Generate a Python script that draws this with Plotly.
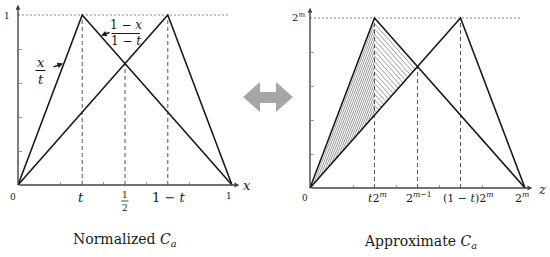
import plotly.graph_objects as go

# ---------------- data ----------------
t = 0.3
curve_a_x = [0, t, 1]          # rises to the peak at t, falls to 1
curve_b_x = [0, 1 - t, 1]      # rises to the peak at 1-t, falls to 1
curve_y = [0, 1, 0]
cross_x = 0.5
cross_y = (1 - cross_x) / (1 - t)
guide_x = [t, cross_x, 1 - t]
guide_top = [1, cross_y, 1]
minor_x_ticks = [0.2, 0.4, 0.6, 0.8]
minor_y_ticks = [0.2, 0.4, 0.6, 0.8]
left_tick_text = ["0", "<i>t</i>", "", "1 − <i>t</i>", "1"]
right_tick_text = ["0", "<i>t</i>2<sup><i>m</i></sup>", "2<sup><i>m</i>−1</sup>",
                   "(1 − <i>t</i>)2<sup><i>m</i></sup>", "2<sup><i>m</i></sup>"]
tick_vals = [0, t, cross_x, 1 - t, 1]
hatch_step = 0.032

W, H = 550, 257
FONT = "DejaVu Serif"
INK = "#1a1a1a"


def px(x):
    return x / W


def py(y):
    return 1 - y / H


def label(x, y, text, size, **kw):
    d = dict(x=px(x), y=py(y), xref="paper", yref="paper", text=text, showarrow=False,
             xanchor="center", yanchor="middle", font=dict(family=FONT, size=size, color=INK))
    d.update(kw)
    return d


# panel geometry in pixels: origin and unit lengths
panels = {
    "L": dict(ox=18, oy=185, ux=214, uy=170, xr=[-0.08, 1.1], yr=[-0.15, 1.07], xa="x", ya="y"),
    "R": dict(ox=310, oy=188, ux=215, uy=170, xr=[-0.08, 1.09], yr=[-0.15, 1.07], xa="x2", ya="y2"),
}

fig = go.Figure()
layout_axes = {}
for key, p in panels.items():
    x0 = p["ox"] + p["xr"][0] * p["ux"]
    x1 = p["ox"] + p["xr"][1] * p["ux"]
    y0 = p["oy"] - p["yr"][0] * p["uy"]
    y1 = p["oy"] - p["yr"][1] * p["uy"]
    xname = "xaxis" if p["xa"] == "x" else "xaxis2"
    yname = "yaxis" if p["ya"] == "y" else "yaxis2"
    layout_axes[xname] = dict(domain=[px(x0), px(x1)], range=p["xr"], anchor="free",
                              position=py(p["oy"]), showgrid=False, zeroline=False,
                              showline=False, ticks="inside", tickvals=minor_x_ticks,
                              ticklen=3, tickwidth=1, tickcolor="#999",
                              showticklabels=False, fixedrange=True)
    layout_axes[yname] = dict(domain=[py(y0), py(y1)], range=p["yr"], anchor="free",
                              position=px(p["ox"]), showgrid=False, zeroline=False,
                              showline=False, ticks="inside", tickvals=minor_y_ticks,
                              ticklen=3, tickwidth=1, tickcolor="#999",
                              showticklabels=False, fixedrange=True)

annotations = []
shapes = []

for key, p in panels.items():
    xa, ya = p["xa"], p["ya"]
    # hatched region (right panel only): nested chevrons between the two curves
    if key == "R":
        hx, hy = [], []
        slope_gap = 1 / t - 1 / (1 - t)
        k = 1
        while k * hatch_step < 1 - t / (1 - t):
            d = k * hatch_step
            xl = d / slope_gap
            xr = (1 - d * (1 - t)) / 2
            hx += [xl, t, xr, None]
            hy += [xl / (1 - t), 1 - d, xr / (1 - t), None]
            k += 1
        fig.add_trace(go.Scatter(x=hx, y=hy, mode="lines", xaxis=xa, yaxis=ya,
                                 line=dict(color="#9c9c9c", width=1), hoverinfo="skip"))
    # dotted top guide
    fig.add_trace(go.Scatter(x=[0, 0.985], y=[1, 1], mode="lines", xaxis=xa, yaxis=ya,
                             line=dict(color="#888", width=1, dash="2px,2px"), hoverinfo="skip"))
    # dashed verticals
    gx, gy = [], []
    for gxv, gtop in zip(guide_x, guide_top):
        gx += [gxv, gxv, None]
        gy += [0, gtop, None]
    fig.add_trace(go.Scatter(x=gx, y=gy, mode="lines", xaxis=xa, yaxis=ya,
                             line=dict(color="#555", width=1, dash="4px,3px"), hoverinfo="skip"))
    # the two triangular curves
    for cx in (curve_a_x, curve_b_x):
        fig.add_trace(go.Scatter(x=cx, y=curve_y, mode="lines", xaxis=xa, yaxis=ya,
                                 line=dict(color=INK, width=1.6), hoverinfo="skip"))
    # axes with arrows
    annotations.append(dict(x=1.034, y=0, ax=0, ay=0, xref=xa, yref=ya, axref=xa, ayref=ya,
                            text="", showarrow=True, arrowhead=2, arrowsize=0.7,
                            arrowwidth=1.4, arrowcolor="#444"))
    annotations.append(dict(x=0, y=1.06, ax=0, ay=0, xref=xa, yref=ya, axref=xa, ayref=ya,
                            text="", showarrow=True, arrowhead=2, arrowsize=0.7,
                            arrowwidth=1.4, arrowcolor="#444"))

# ---- left panel labels ----
annotations.append(label(13, 197, "0", 9))
annotations.append(label(81, 197, "<i>t</i>", 13))
annotations.append(label(168, 197, "1 − <i>t</i>", 13))
annotations.append(label(229, 196, "1", 9))
# 1/2 fraction
annotations.append(label(125, 194.5, "1", 9))
annotations.append(label(125, 208, "2", 9))
shapes.append(dict(type="line", xref="paper", yref="paper", x0=px(121.5), x1=px(128.5),
                   y0=py(201), y1=py(201), line=dict(color=INK, width=0.8)))
annotations.append(label(247, 185, "<i>x</i>", 13))
annotations.append(label(7, 16, "1", 9))
# x/t fraction with arrow
annotations.append(label(40.5, 62, "<i>x</i>", 13))
annotations.append(label(40.5, 79, "<i>t</i>", 13))
shapes.append(dict(type="line", xref="paper", yref="paper", x0=px(35.5), x1=px(45.5),
                   y0=py(70.5), y1=py(70.5), line=dict(color=INK, width=1)))
annotations.append(dict(x=px(63), y=py(63.5), xref="paper", yref="paper", text="",
                        ax=-11, ay=4, showarrow=True, arrowhead=2, arrowsize=0.8,
                        arrowwidth=1.4, arrowcolor=INK))
# (1-x)/(1-t) fraction with arrow
annotations.append(label(126, 25, "1 − <i>x</i>", 12))
annotations.append(label(126, 41.5, "1 − <i>t</i>", 12))
shapes.append(dict(type="line", xref="paper", yref="paper", x0=px(111.5), x1=px(140),
                   y0=py(33.5), y1=py(33.5), line=dict(color=INK, width=1)))
annotations.append(dict(x=px(101), y=py(35.5), xref="paper", yref="paper", text="",
                        ax=10, ay=-3.5, showarrow=True, arrowhead=2, arrowsize=0.8,
                        arrowwidth=1.4, arrowcolor=INK))

# ---- right panel labels ----
annotations.append(label(305, 198, right_tick_text[0], 9))
annotations.append(label(377, 197, right_tick_text[1], 11))
annotations.append(label(419, 197, right_tick_text[2], 11))
annotations.append(label(468, 197, right_tick_text[3], 11))
annotations.append(label(522, 197, right_tick_text[4], 11))
annotations.append(label(542, 189, "<i>z</i>", 13))
annotations.append(label(298, 17, "2<sup><i>m</i></sup>", 10))

# titles
annotations.append(label(125, 240, "Normalized <i>C</i><sub><i>a</i></sub>", 14))
annotations.append(label(420, 242, "Approximate <i>C</i><sub><i>a</i></sub>", 14))

# double-headed grey arrow between panels
pts = [(243, 97), (260, 82), (260, 92), (276, 92), (276, 82), (293, 97),
       (276, 112), (276, 103), (260, 103), (260, 112)]
path = "M " + " L ".join(f"{px(a):.5f},{py(b):.5f}" for a, b in pts) + " Z"
shapes.append(dict(type="path", xref="paper", yref="paper", path=path,
                   fillcolor="#a6a6a6", line=dict(width=0)))

fig.update_layout(width=W, height=H, margin=dict(l=0, r=0, t=0, b=0),
                  paper_bgcolor="white", plot_bgcolor="white", showlegend=False,
                  annotations=annotations, shapes=shapes, **layout_axes)

fig.write_html("out.html", config={"displayModeBar": False},
               post_script="document.body.style.margin='0';document.body.style.overflow='hidden';")
